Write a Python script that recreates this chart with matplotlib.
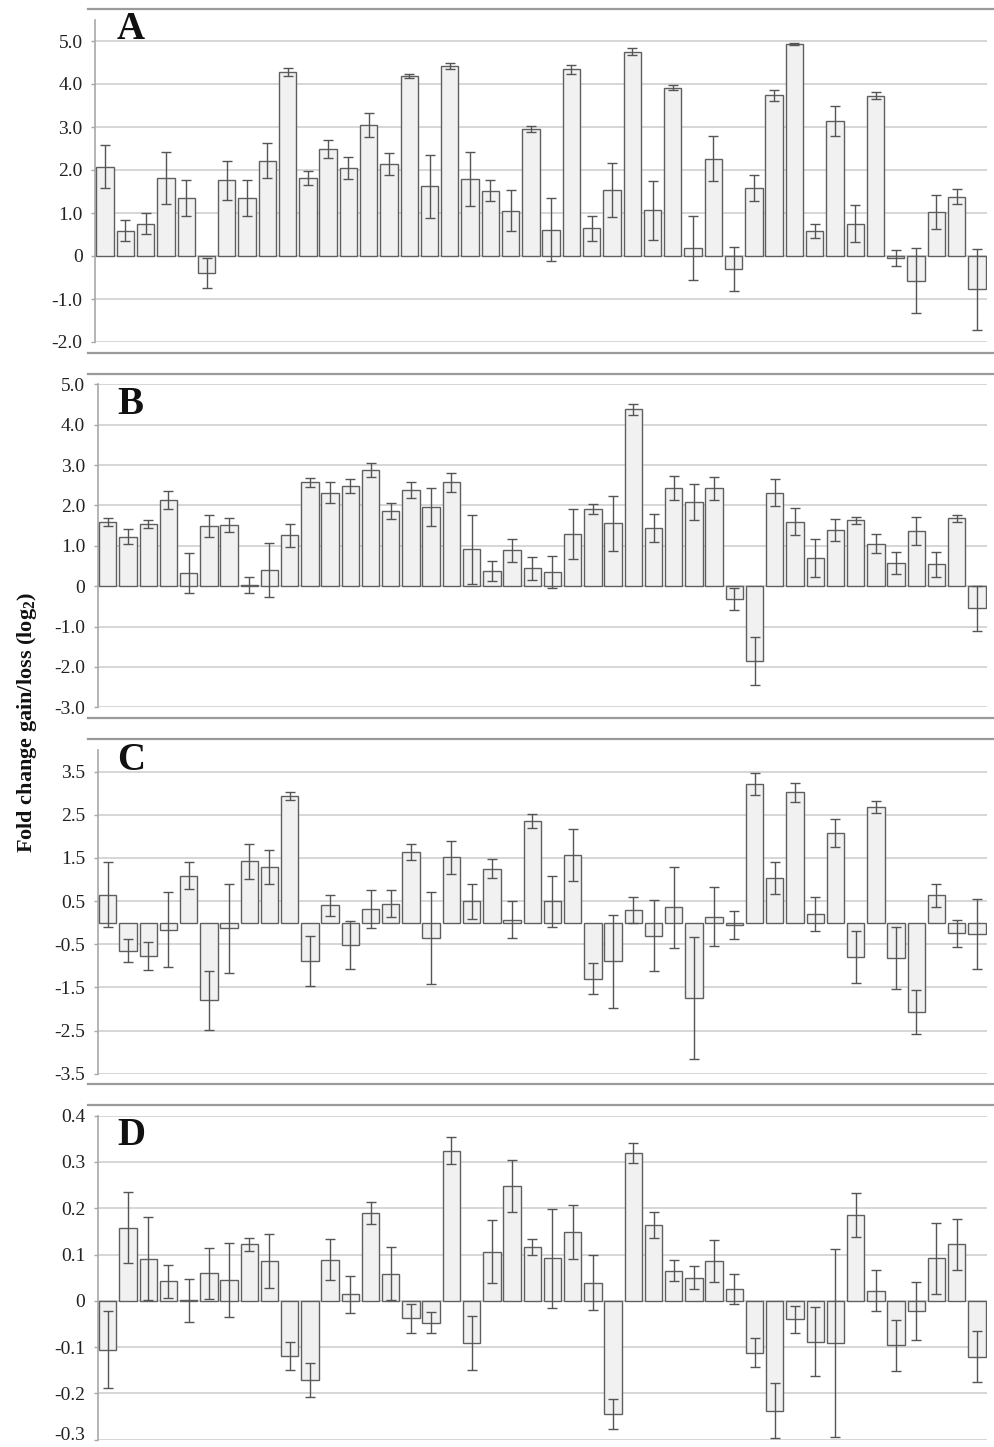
import numpy as np
import matplotlib
matplotlib.use("Agg")
import matplotlib.pyplot as plt
from matplotlib.lines import Line2D

# ---------------- data ----------------
panel_labels = ["A", "B", "C", "D"]

a_values = [2.08, 0.59, 0.75, 1.81, 1.34, -0.39, 1.76, 1.34, 2.22, 4.28,
            1.81, 2.49, 2.05, 3.04, 2.14, 4.19, 1.62, 4.42, 1.80, 1.52,
            1.05, 2.95, 0.61, 4.34, 0.64, 1.54, 4.75, 1.06, 3.91, 0.19,
            2.26, -0.31, 1.59, 3.74, 4.93, 0.58, 3.15, 0.75, 3.73, -0.04,
            -0.57, 1.02, 1.38, -0.77]
a_errors = [0.49, 0.24, 0.24, 0.60, 0.42, 0.35, 0.45, 0.42, 0.41, 0.10,
            0.16, 0.21, 0.25, 0.28, 0.25, 0.05, 0.74, 0.07, 0.63, 0.25,
            0.48, 0.07, 0.73, 0.10, 0.30, 0.63, 0.08, 0.68, 0.06, 0.74,
            0.52, 0.51, 0.30, 0.13, 0.02, 0.17, 0.35, 0.43, 0.09, 0.19,
            0.76, 0.40, 0.18, 0.94]

b_values = [1.60, 1.23, 1.55, 2.14, 0.33, 1.50, 1.52, 0.02, 0.39, 1.26,
            2.57, 2.31, 2.49, 2.87, 1.86, 2.39, 1.95, 2.57, 0.91, 0.38,
            0.89, 0.44, 0.35, 1.29, 1.91, 1.56, 4.38, 1.44, 2.43, 2.09,
            2.42, -0.31, -1.85, 2.32, 1.60, 0.69, 1.39, 1.63, 1.05, 0.58,
            1.36, 0.54, 1.68, -0.55]
b_errors = [0.10, 0.19, 0.10, 0.22, 0.50, 0.27, 0.18, 0.20, 0.67, 0.28,
            0.11, 0.26, 0.17, 0.17, 0.19, 0.20, 0.47, 0.24, 0.86, 0.25,
            0.28, 0.29, 0.40, 0.62, 0.13, 0.68, 0.13, 0.35, 0.30, 0.44,
            0.28, 0.27, 0.59, 0.34, 0.33, 0.47, 0.28, 0.09, 0.24, 0.27,
            0.35, 0.31, 0.08, 0.56]

c_values = [0.65, -0.65, -0.77, -0.16, 1.09, -1.80, -0.13, 1.42, 1.29, 2.93,
            -0.89, 0.40, -0.52, 0.31, 0.44, 1.64, -0.35, 1.51, 0.49, 1.25,
            0.07, 2.36, 0.49, 1.56, -1.30, -0.90, 0.29, -0.30, 0.36, -1.75,
            0.14, -0.06, 3.21, 1.03, 3.02, 0.20, 2.07, -0.80, 2.68, -0.82,
            -2.06, 0.63, -0.25, -0.26]
c_errors = [0.76, 0.27, 0.33, 0.87, 0.31, 0.69, 1.03, 0.40, 0.39, 0.10,
            0.57, 0.25, 0.55, 0.44, 0.31, 0.18, 1.07, 0.39, 0.41, 0.22,
            0.42, 0.16, 0.58, 0.60, 0.36, 1.07, 0.30, 0.82, 0.94, 1.42,
            0.68, 0.32, 0.26, 0.37, 0.22, 0.40, 0.32, 0.60, 0.14, 0.71,
            0.51, 0.26, 0.32, 0.81]

d_values = [-0.106, 0.158, 0.091, 0.042, 0.001, 0.060, 0.045, 0.122, 0.086, -0.119,
            -0.171, 0.089, 0.014, 0.190, 0.059, -0.038, -0.047, 0.324, -0.091, 0.106,
            0.248, 0.117, 0.092, 0.148, 0.039, -0.245, 0.319, 0.163, 0.065, 0.050,
            0.086, 0.025, -0.112, -0.237, -0.040, -0.088, -0.091, 0.186, 0.022, -0.096,
            -0.022, 0.092, 0.122, -0.121]
d_errors = [0.083, 0.077, 0.090, 0.036, 0.046, 0.055, 0.079, 0.014, 0.058, 0.031,
            0.036, 0.045, 0.040, 0.023, 0.057, 0.032, 0.023, 0.029, 0.059, 0.068,
            0.057, 0.017, 0.107, 0.058, 0.059, 0.032, 0.021, 0.028, 0.023, 0.025,
            0.045, 0.032, 0.031, 0.060, 0.029, 0.075, 0.203, 0.047, 0.044, 0.055,
            0.062, 0.077, 0.055, 0.055]

a_ticks = [5.0, 4.0, 3.0, 2.0, 1.0, 0.0, -1.0, -2.0]
a_ticklabels = ["5.0", "4.0", "3.0", "2.0", "1.0", "0", "-1.0", "-2.0"]
b_ticks = [5.0, 4.0, 3.0, 2.0, 1.0, 0.0, -1.0, -2.0, -3.0]
b_ticklabels = ["5.0", "4.0", "3.0", "2.0", "1.0", "0", "-1.0", "-2.0", "-3.0"]
c_ticks = [3.5, 2.5, 1.5, 0.5, -0.5, -1.5, -2.5, -3.5]
c_ticklabels = ["3.5", "2.5", "1.5", "0.5", "-0.5", "-1.5", "-2.5", "-3.5"]
d_ticks = [0.4, 0.3, 0.2, 0.1, 0.0, -0.1, -0.2, -0.3]
d_ticklabels = ["0.4", "0.3", "0.2", "0.1", "0", "-0.1", "-0.2", "-0.3"]

y_label = "Fold change gain/loss (log$_{\\mathbf{2}}$)"

# ---------------- style ----------------
plt.rcParams["font.family"] = ["Liberation Serif", "DejaVu Serif"]
plt.rcParams["mathtext.fontset"] = "custom"
plt.rcParams["mathtext.rm"] = "Liberation Serif"
plt.rcParams["mathtext.bf"] = "Liberation Serif:bold"

W, H = 994, 1447
fig = plt.figure(figsize=(W / 100, H / 100), dpi=100)

def fx(px):
    return px / W

def fy(py):
    return 1 - py / H

# axes rectangles in pixel coords: (left, right, top, bottom)
rects = [(95.0, 987.0, 19.5, 342.0),
         (97.7, 987.0, 384.3, 707.3),
         (97.7, 987.0, 750.0, 1073.7),
         (97.7, 987.0, 1115.7, 1439.7)]
ylims = [(-2.0, 5.5), (-3.0, 5.0), (-3.5, 4.0), (-0.3, 0.4)]
letter_baselines = [39, 414, 770, 1145]

panels = [(a_values, a_errors, a_ticks, a_ticklabels),
          (b_values, b_errors, b_ticks, b_ticklabels),
          (c_values, c_errors, c_ticks, c_ticklabels),
          (d_values, d_errors, d_ticks, d_ticklabels)]

grid_col = "#cfcfcf"
bar_face = "#f1f1f1"
bar_edge = "#5f5f5f"
err_col = "#555555"

for i, (vals, errs, ticks, tlabels) in enumerate(panels):
    l, r, t, b = rects[i]
    ax = fig.add_axes([fx(l), fy(b), fx(r - l), (b - t) / H])
    x = np.arange(len(vals))
    ax.bar(x, vals, width=0.86, color=bar_face, edgecolor=bar_edge,
           linewidth=1.0, zorder=3)
    ax.errorbar(x, vals, yerr=errs, fmt="none", ecolor=err_col,
                elinewidth=1.0, capsize=3.5, capthick=1.0, zorder=4)
    ax.set_xlim(-0.5, len(vals) - 0.5)
    ax.set_ylim(*ylims[i])
    ax.set_yticks(ticks)
    ax.set_yticklabels(tlabels)
    ax.set_xticks([])
    ax.yaxis.grid(True, color=grid_col, linewidth=1.2, zorder=0)
    ax.set_axisbelow(True)
    for s in ["top", "right", "bottom"]:
        ax.spines[s].set_visible(False)
    ax.spines["left"].set_color("#a8a8a8")
    ax.spines["left"].set_linewidth(1.2)
    ax.tick_params(axis="y", length=3, width=1, color="#a8a8a8",
                   labelsize=14, pad=6, labelcolor="#222222")
    ax.patch.set_alpha(0)
    if i == 3:
        # bottom label sits just above the lowest gridline, as in the original
        ax.get_yticklabels()[-1].set_verticalalignment("baseline")
    fig.text(fx(117), fy(letter_baselines[i]), panel_labels[i],
             fontsize=28, fontweight="bold", ha="left", va="baseline",
             color="#111111")

# panel separator lines
for yy in [9, 353, 374, 718.3, 739.3, 1084.3, 1105.3]:
    fig.add_artist(Line2D([fx(88), fx(993)], [fy(yy), fy(yy)],
                          color="#9a9a9a", linewidth=1.6))

fig.text(fx(27), fy(722), y_label, rotation=90, fontsize=16,
         fontweight="bold", ha="center", va="center", color="#111111")

fig.savefig("out.png", dpi=100)
